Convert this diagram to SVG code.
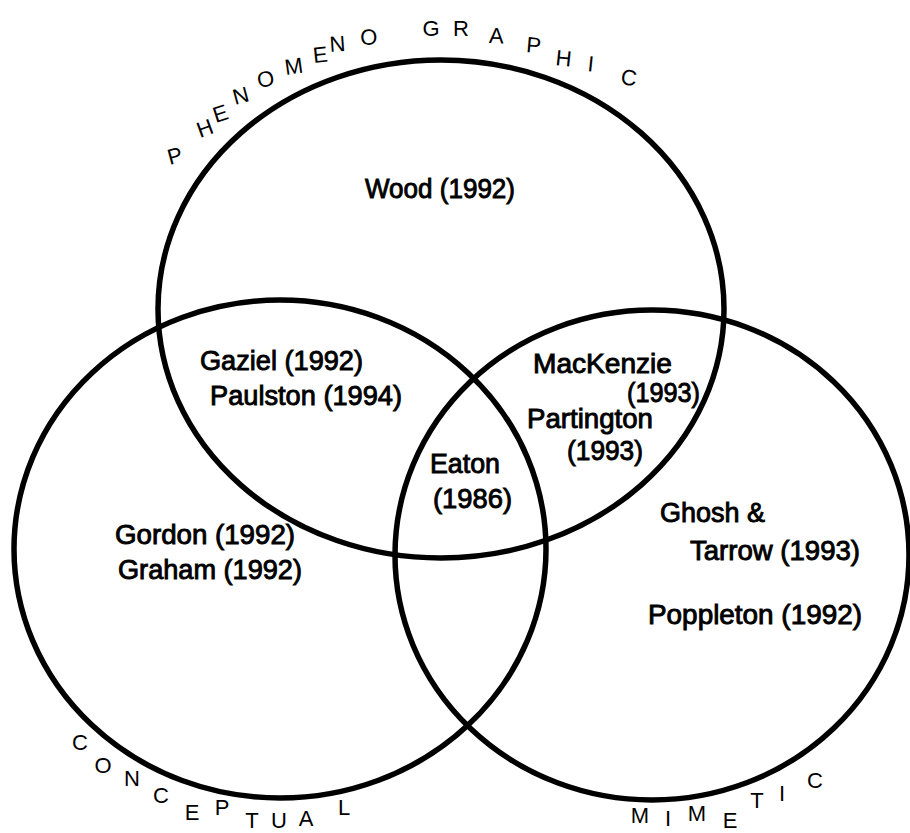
<svg xmlns="http://www.w3.org/2000/svg" width="910" height="833" viewBox="0 0 910 833">
<style>
.ring{fill:none;stroke:#000;stroke-width:5.5}
.lbl{font-family:"Liberation Sans",Arial,sans-serif;font-size:27px;fill:#000;stroke:#000;stroke-width:0.9}
.arc{font-family:"Liberation Sans",Arial,sans-serif;font-size:22px;fill:#000;text-anchor:middle}
</style>
<rect width="910" height="833" fill="#fff"/>
<g id="connectors"></g>
<g id="phenomenographic">
<ellipse class="ring" cx="441" cy="309" rx="283" ry="249"/>
<text class="arc" x="177 208 223 243 267 295 321 338 369 400 431 461 496 533 563 590 628" y="165 138 123 105 88 75 63 52 45 38 36 36 43 52 65 71 84" rotate="-15 -20 -18 -15 -10 -8 -6 -4 -2 0 0 0 2 5 6 6 8">PHENOMENO GRAPHIC</text>
</g>
<g id="conceptual">
<ellipse class="ring" cx="280" cy="549" rx="266" ry="249"/>
<text class="arc" x="80 103 132 161 192 222 252 279 306 344" y="750 773 786 803 820 815 828 828 826 815">CONCEPTUAL</text>
</g>
<g id="mimetic">
<ellipse class="ring" cx="652" cy="555" rx="257" ry="245"/>
<text class="arc" x="640 668 697 730 757 782 815" y="823 826 821 828 808 801 788">MIMETIC</text>
</g>
<g id="labels">
<text class="lbl" x="365" y="198" textLength="150" lengthAdjust="spacingAndGlyphs">Wood (1992)</text>
<text class="lbl" x="200" y="370" textLength="163" lengthAdjust="spacingAndGlyphs">Gaziel (1992)</text>
<text class="lbl" x="210" y="405" textLength="192" lengthAdjust="spacingAndGlyphs">Paulston (1994)</text>
<text class="lbl" x="533" y="373" textLength="139" lengthAdjust="spacingAndGlyphs">MacKenzie</text>
<text class="lbl" x="627" y="402" textLength="73" lengthAdjust="spacingAndGlyphs">(1993)</text>
<text class="lbl" x="527" y="428" textLength="126" lengthAdjust="spacingAndGlyphs">Partington</text>
<text class="lbl" x="567" y="460" textLength="76" lengthAdjust="spacingAndGlyphs">(1993)</text>
<text class="lbl" x="430" y="473" textLength="70" lengthAdjust="spacingAndGlyphs">Eaton</text>
<text class="lbl" x="433" y="508" textLength="79" lengthAdjust="spacingAndGlyphs">(1986)</text>
<text class="lbl" x="115" y="544" textLength="180" lengthAdjust="spacingAndGlyphs">Gordon (1992)</text>
<text class="lbl" x="118" y="579" textLength="184" lengthAdjust="spacingAndGlyphs">Graham (1992)</text>
<text class="lbl" x="660" y="522" textLength="105" lengthAdjust="spacingAndGlyphs">Ghosh &amp;</text>
<text class="lbl" x="690" y="560" textLength="170" lengthAdjust="spacingAndGlyphs">Tarrow (1993)</text>
<text class="lbl" x="648" y="624" textLength="214" lengthAdjust="spacingAndGlyphs">Poppleton (1992)</text>
</g>
</svg>
